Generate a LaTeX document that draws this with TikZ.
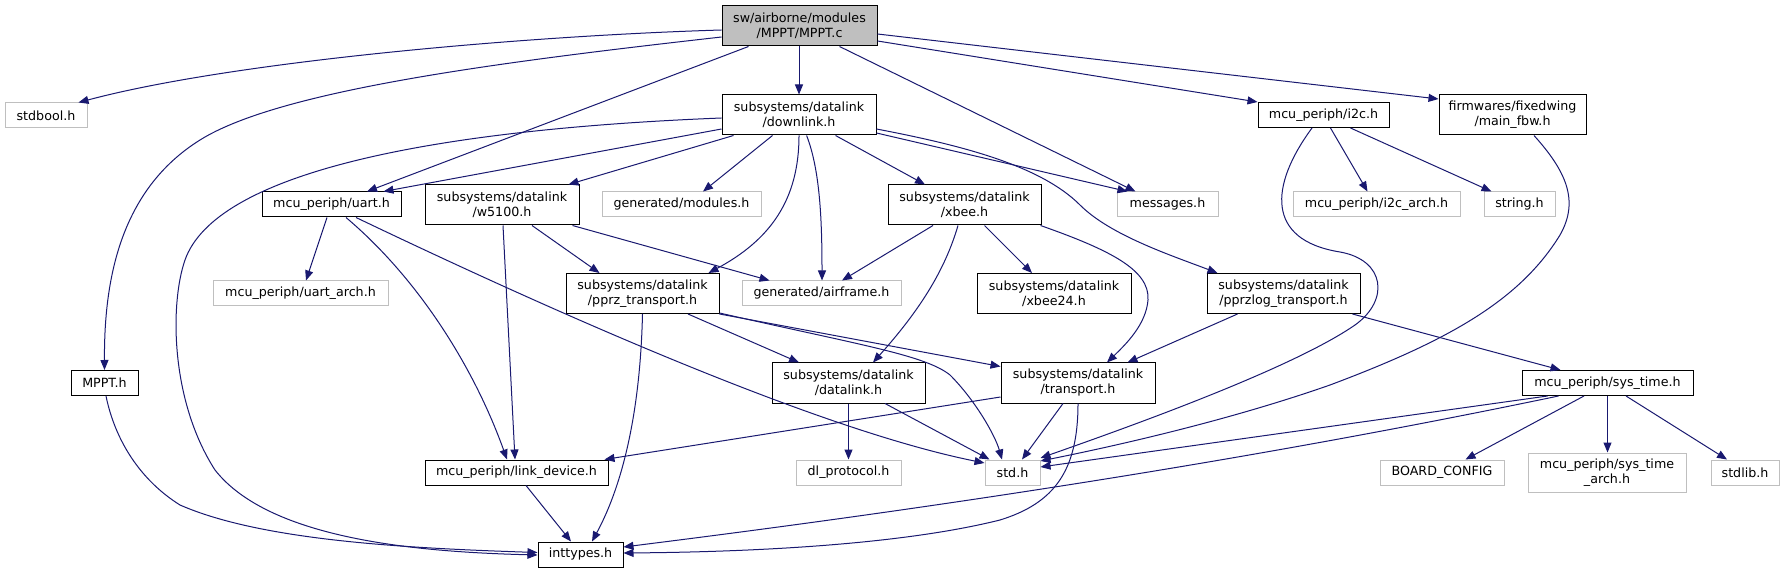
\documentclass[tikz,border=0pt]{standalone}
\usepackage{fontspec}
\setmainfont{DejaVu Sans}
\usetikzlibrary{arrows.meta,calc}
\definecolor{edgeblue}{HTML}{191970}
\definecolor{greyline}{HTML}{BFBFBF}
\begin{document}
\begin{tikzpicture}[x=0.75pt,y=-0.75pt,
  nb/.style 2 args={draw=black, line width=0.75pt, fill=white, inner sep=0pt, align=center,
    font=\fontsize{9.5}{11.25}\selectfont, minimum width=#1*0.75pt, minimum height=#2*0.75pt},
  gb/.style 2 args={nb={#1}{#2}, draw=greyline},
  dep/.style={draw=edgeblue, line width=0.75pt, -{Triangle[length=7.5pt,width=6pt]}}]
\fill[white] (0,0) rectangle (1784,573);
\useasboundingbox (0,0) rectangle (1784,573);
% nodes
\node[nb={155}{40}, fill=greyline] (mpptc) at (799.5,26) {sw/airborne/modules\\/MPPT/MPPT.c};
\node[gb={82}{25}] (stdbool) at (46,115.5) {stdbool.h};
\node[nb={154}{40}] (downlink) at (799,115) {subsystems/datalink\\/downlink.h};
\node[nb={139}{25}] (uart) at (331.5,204.5) {mcu\_periph/uart.h};
\node[nb={154}{40}] (w5100) at (502,205) {subsystems/datalink\\/w5100.h};
\node[gb={159}{25}] (modules) at (681.5,204.5) {generated/modules.h};
\node[nb={153}{40}] (xbee) at (964.5,205) {subsystems/datalink\\/xbee.h};
\node[gb={101}{25}] (messages) at (1167.5,204.5) {messages.h};
\node[nb={131}{25}] (i2c) at (1323.5,115) {mcu\_periph/i2c.h};
\node[nb={147}{40}] (mainfbw) at (1512.5,115) {firmwares/fixedwing\\/main\_fbw.h};
\node[gb={167}{25}] (i2carch) at (1376.5,204.5) {mcu\_periph/i2c\_arch.h};
\node[gb={71}{25}] (string) at (1519.5,204.5) {string.h};
\node[gb={175}{25}] (uartarch) at (300.5,293.5) {mcu\_periph/uart\_arch.h};
\node[nb={153}{40}] (pprz) at (642.5,293.5) {subsystems/datalink\\/pprz\_transport.h};
\node[gb={159}{25}] (airframe) at (821.5,293.5) {generated/airframe.h};
\node[nb={154}{40}] (xbee24) at (1054,293.5) {subsystems/datalink\\/xbee24.h};
\node[nb={153}{40}] (pprzlog) at (1283.5,293.5) {subsystems/datalink\\/pprzlog\_transport.h};
\node[nb={67}{25}] (mppth) at (104.5,383) {MPPT.h};
\node[nb={153}{40}] (datalink) at (848.5,383) {subsystems/datalink\\/datalink.h};
\node[nb={154}{40}] (transport) at (1078,383) {subsystems/datalink\\/transport.h};
\node[nb={171}{25}] (systime) at (1607.5,383) {mcu\_periph/sys\_time.h};
\node[nb={183}{25}] (linkdev) at (516.5,472.5) {mcu\_periph/link\_device.h};
\node[gb={105}{25}] (dlproto) at (848.5,472.5) {dl\_protocol.h};
\node[gb={55}{25}] (std) at (1012.5,472.5) {std.h};
\node[gb={124}{25}] (boardcfg) at (1442,472.5) {BOARD\_CONFIG};
\node[gb={158}{39}] (systimearch) at (1607,472.5) {mcu\_periph/sys\_time\\\_arch.h};
\node[gb={68}{25}] (stdlib) at (1745,472.5) {stdlib.h};
\node[nb={85}{25}] (inttypes) at (580.5,554.5) {inttypes.h};
% edges from MPPT.c
\draw[dep] ($(mpptc.west)+(0,4)$) .. controls (520,36) and (230,62) .. ($(stdbool.north east)+(-9,0)$);
\draw[dep] ($(mpptc.west)+(0,11)$) .. controls (500,62) and (280,90) .. (200,140) .. controls (120,190) and (104,280) .. (mppth.north);
\draw[dep] ($(mpptc.south west)+(27,0)$) -- ($(uart.north)+(35.5,0)$);
\draw[dep] (mpptc.south -| downlink.north) -- (downlink.north);
\draw[dep] ($(mpptc.south east)+(-38,0)$) -- ($(messages.north west)+(19,0)$);
\draw[dep] ($(mpptc.east)+(0,15)$) -- (i2c.north west);
\draw[dep] ($(mpptc.east)+(0,8)$) -- ($(mainfbw.west)+(0,-16)$);
% downlink
\draw[dep] ($(downlink.west)+(0,14)$) -- ($(uart.north east)+(-18,0)$);
\draw[dep] ($(downlink.west)+(0,3)$) .. controls (420,130) and (215,175) .. (185,260) .. controls (170,303) and (170,400) .. (215,470) .. controls (270,540) and (420,552) .. ($(inttypes.west)+(0,0.5)$);
\draw[dep] ($(downlink.south west)+(12,0)$) -- ($(w5100.north east)+(-11,0)$);
\draw[dep] ($(downlink.south west)+(51,0)$) -- ($(modules.north)+(21.5,0)$);
\draw[dep] (downlink.south) .. controls (799,200) and (770,240) .. ($(pprz.north east)+(-11,0)$);
\draw[dep] ($(downlink.south)+(7.6,0)$) .. controls (820,170) and (822,220) .. ($(airframe.north)+(0.5,0)$);
\draw[dep] ($(downlink.south east)+(-41,0)$) -- ($(xbee.north)+(-39.5,0)$);
\draw[dep] ($(downlink.east)+(0,18)$) -- ($(messages.north west)+(11,0)$);
\draw[dep] ($(downlink.east)+(0,14)$) .. controls (960,145) and (1040,165) .. (1080,205) .. controls (1110,235) and (1170,255) .. ($(pprzlog.north west)+(11,0)$);
% uart
\draw[dep] ($(uart.south)+(-4.5,0)$) -- ($(uartarch.north)+(5.5,0)$);
\draw[dep] ($(uart.south)+(14.5,0)$) .. controls (420,280) and (475,370) .. ($(linkdev.north)+(-9.5,0)$);
\draw[dep] ($(uart.south)+(24.5,0)$) .. controls (560,315) and (820,430) .. ($(std.west)+(0,-9.5)$);
% w5100
\draw[dep] ($(w5100.south)+(1,0)$) -- ($(linkdev.north)+(-1.5,0)$);
\draw[dep] ($(w5100.south)+(30,0)$) -- ($(pprz.north west)+(34,0)$);
\draw[dep] ($(w5100.south east)+(-7,0)$) -- ($(airframe.north west)+(28,0)$);
% xbee
\draw[dep] ($(xbee.south)+(-31.5,0)$) -- ($(airframe.north)+(20.5,0)$);
\draw[dep] ($(xbee.south)+(-6.5,0)$) .. controls (945,270) and (920,310) .. ($(datalink.north)+(24.5,0)$);
\draw[dep] ($(xbee.south)+(20,0)$) -- ($(xbee24.north)+(-22,0)$);
\draw[dep] ($(xbee.south east)+(-1,0)$) .. controls (1110,250) and (1150,270) .. (1148,300) .. controls (1146,325) and (1125,345) .. ($(transport.north)+(29,0)$);
% pprz_transport
\draw[dep] (pprz.south) .. controls (640,420) and (620,490) .. ($(inttypes.north)+(11.5,0)$);
\draw[dep] ($(pprz.south)+(45.5,0)$) -- ($(datalink.north)+(-49.5,0)$);
\draw[dep] ($(pprz.south east)+(0,-1)$) .. controls (860,345) and (925,355) .. (950,375) .. controls (975,400) and (995,435) .. ($(std.north)+(-10.5,0)$);
\draw[dep] (pprz.south east) -- ($(transport.north west)+(0,4)$);
% pprzlog
\draw[dep] ($(pprzlog.south)+(-46,0)$) -- ($(transport.north east)+(-28,0)$);
\draw[dep] ($(pprzlog.south east)+(-8,0)$) -- ($(systime.north west)+(39,0)$);
% datalink
\draw[dep] (datalink.south) -- (dlproto.north);
\draw[dep] ($(datalink.south)+(36.5,0)$) -- ($(std.north west)+(5,0)$);
% transport
\draw[dep] ($(transport.west)+(0,14)$) -- ($(linkdev.north east)+(-4,0)$);
\draw[dep] ($(transport.south)+(-15,0)$) -- ($(std.north)+(9.5,0)$);
\draw[dep] (transport.south) .. controls (1078,470) and (1055,503) .. (1000,520) .. controls (900,545) and (750,552) .. ($(inttypes.east)+(0,-1.5)$);
% i2c
\draw[dep] ($(i2c.south)+(7,0)$) -- ($(i2carch.north)+(-9,0)$);
\draw[dep] ($(i2c.south)+(27,0)$) -- ($(string.north west)+(8,0)$);
\draw[dep] ($(i2c.south)+(-11.5,0)$) .. controls (1270,185) and (1265,240) .. (1340,252) .. controls (1385,260) and (1390,300) .. (1355,325) .. controls (1290,370) and (1120,430) .. ($(std.north east)+(0,-1.5)$);
% main_fbw
\draw[dep] ($(mainfbw.south)+(21.5,0)$) .. controls (1565,170) and (1580,200) .. (1560,235) .. controls (1520,300) and (1450,340) .. (1330,385) .. controls (1230,420) and (1120,445) .. ($(std.east)+(0,-11.5)$);
% MPPT.h
\draw[dep] ($(mppth.south)+(1.5,0)$) .. controls (115,440) and (140,480) .. (180,505) .. controls (260,540) and (400,548) .. ($(inttypes.west)+(0,-2)$);
% link_device
\draw[dep] ($(linkdev.south)+(9.5,0)$) -- ($(inttypes.north)+(-9.5,0)$);
% sys_time
\draw[dep] ($(systime.south west)+(26,0)$) -- ($(std.east)+(0,-5.5)$);
\draw[dep] ($(systime.south west)+(37,0)$) .. controls (1300,450) and (1000,500) .. ($(inttypes.east)+(0,-7.5)$);
\draw[dep] ($(systime.south)+(-23.5,0)$) -- ($(boardcfg.north east)+(-39,0)$);
\draw[dep] (systime.south) -- (systime.south |- systimearch.north);
\draw[dep] ($(systime.south)+(18.5,0)$) -- ($(stdlib.north)+(-18,0)$);
\end{tikzpicture}
\end{document}
